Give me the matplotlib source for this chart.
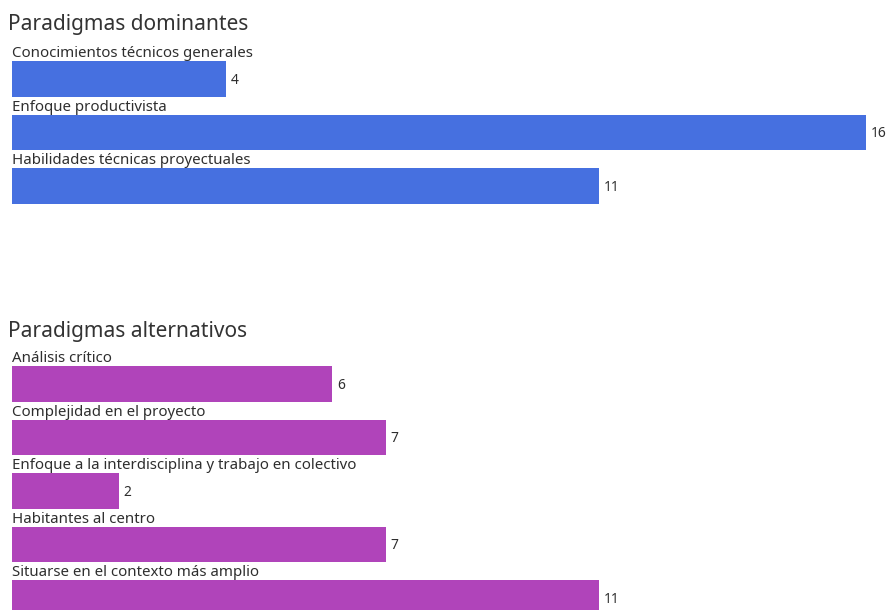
import matplotlib.pyplot as plt

plt.rcParams['font.family'] = ['Noto Sans', 'DejaVu Sans']

dom_labels = ['Conocimientos técnicos generales', 'Enfoque productivista',
              'Habilidades técnicas proyectuales']
dom_values = [4, 16, 11]

alt_labels = ['Análisis crítico', 'Complejidad en el proyecto',
              'Enfoque a la interdisciplina y trabajo en colectivo',
              'Habitantes al centro', 'Situarse en el contexto más amplio']
alt_values = [6, 7, 2, 7, 11]

W, H = 890, 610
PITCH = 53.5      # px per row
BAR_H = 0.655     # bar thickness in row units
XMAX = 16

fig = plt.figure(figsize=(W / 100, H / 100), dpi=100)


def panel(top_px, labels, values, color):
    n = len(labels)
    h = n * PITCH
    ax = fig.add_axes([12 / W, 1 - (top_px + h) / H, 854 / W, h / H])
    ys = list(range(n))
    ax.barh(ys, values, height=BAR_H, color=color, linewidth=0)
    ax.set_xlim(0, XMAX)
    ax.set_ylim(n - 0.5, -0.5)
    for y, lab, v in zip(ys, labels, values):
        ax.text(0, y - BAR_H / 2 - 0.075, lab, ha='left', va='baseline',
                fontsize=10.8, color='#2e2e2e', clip_on=False)
        ax.text(v + 0.09, y + 0.02, str(v), ha='left', va='center',
                fontsize=10, color='#2e2e2e', clip_on=False)
    ax.axis('off')
    return ax


fig.text(8 / W, 1 - 30 / H, 'Paradigmas dominantes', fontsize=15,
         color='#333333', va='baseline', ha='left')
panel(52.25, dom_labels, dom_values, '#4670e0')

fig.text(8 / W, 1 - 336.5 / H, 'Paradigmas alternativos', fontsize=15,
         color='#333333', va='baseline', ha='left')
panel(357.25, alt_labels, alt_values, '#b044ba')

fig.savefig('out.png', dpi=100)
